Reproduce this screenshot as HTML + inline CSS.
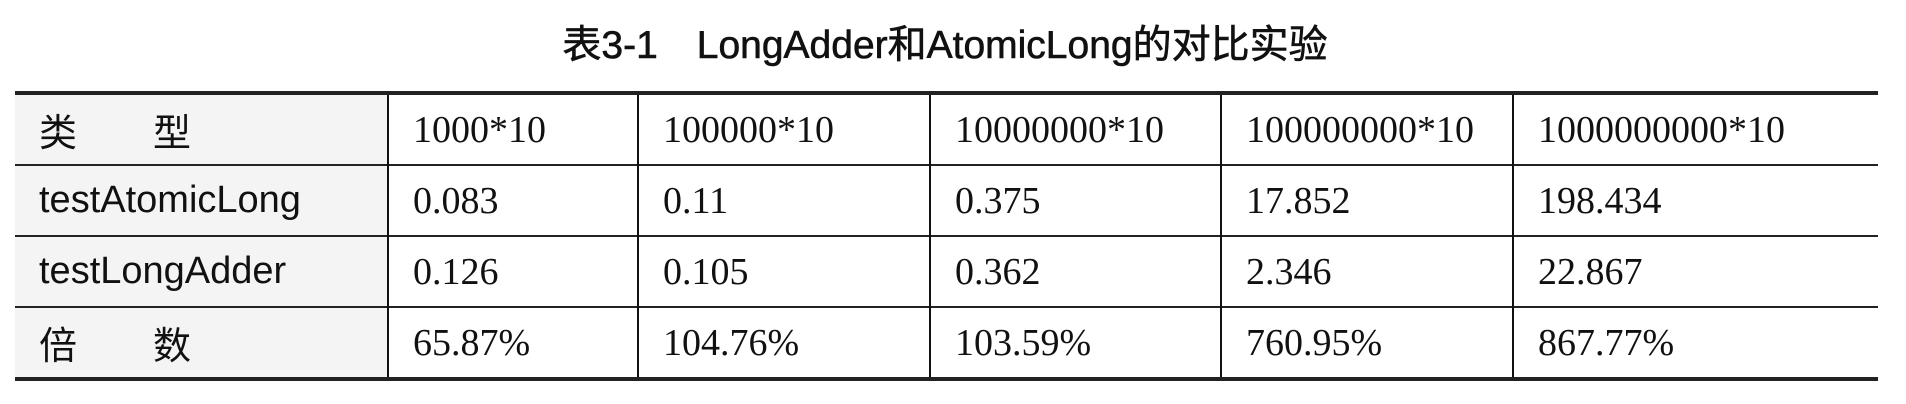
<!DOCTYPE html>
<html><head><meta charset="utf-8"><style>
body{margin:0;width:1906px;height:404px;background:#fff;overflow:hidden;position:relative}
#title{position:absolute;left:0;width:1890px;top:14px;text-align:center;font:39px "Liberation Sans","Noto Sans CJK SC",sans-serif;color:#111;white-space:pre;-webkit-text-stroke:0.6px #111}
table{position:absolute;left:15px;top:91px;width:1863px;border-collapse:collapse;border-top:4px solid #222;border-bottom:4px solid #222}
td{height:69px;border-top:2px solid #222;border-left:2px solid #111;padding:0 0 0 24px;font:38px "Liberation Serif",serif;color:#111;vertical-align:middle;white-space:nowrap}
tr:first-child td{border-top:none}
td:first-child{border-left:none;background:#f4f4f4;font-family:"Liberation Sans","Noto Sans CJK SC",sans-serif;font-size:38px}
</style></head><body>
<div id="title">表3-1　LongAdder和AtomicLong的对比实验</div>
<table>
<colgroup><col style="width:373px"><col style="width:250px"><col style="width:292px"><col style="width:291px"><col style="width:292px"><col style="width:365px"></colgroup>
<tr><td>类　　型</td><td>1000*10</td><td>100000*10</td><td>10000000*10</td><td>100000000*10</td><td>1000000000*10</td></tr>
<tr><td>testAtomicLong</td><td>0.083</td><td>0.11</td><td>0.375</td><td>17.852</td><td>198.434</td></tr>
<tr><td>testLongAdder</td><td>0.126</td><td>0.105</td><td>0.362</td><td>2.346</td><td>22.867</td></tr>
<tr><td>倍　　数</td><td>65.87%</td><td>104.76%</td><td>103.59%</td><td>760.95%</td><td>867.77%</td></tr>
</table>
</body></html>
